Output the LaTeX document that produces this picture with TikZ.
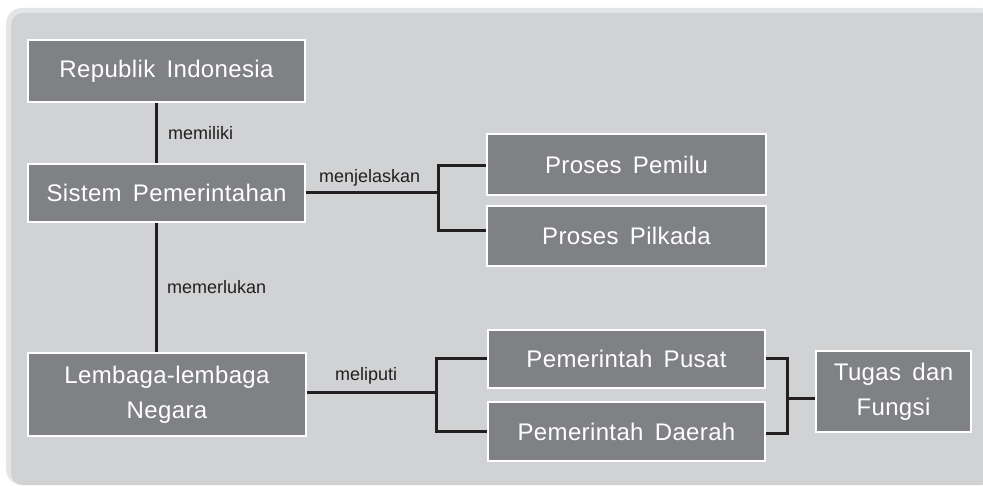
\documentclass[tikz,border=0pt]{standalone}
\usepackage{fontspec}
\setmainfont{Liberation Sans}
\newfontfamily\boxfont[LetterSpace=1.5,WordSpace=1.6]{Liberation Sans}
\usetikzlibrary{calc}
\definecolor{bgout}{HTML}{E4E5E6}
\definecolor{bgin}{HTML}{D1D2D4}
\definecolor{boxg}{HTML}{808184}
\definecolor{ink}{HTML}{231F20}
\tikzset{
 cbox/.style={draw=white, line width=2.2pt, fill=boxg, text=white, inner sep=0pt, align=center,
   font=\boxfont\fontsize{24}{35}\selectfont},
 conn/.style={draw=ink, line width=3pt},
 lbl/.style={text=ink, font=\fontsize{18}{20}\selectfont, inner sep=0pt}
}
\begin{document}
\begin{tikzpicture}[x=1pt,y=-1pt]
\useasboundingbox (0,0) rectangle (983,486);
\fill[white] (0,0) rectangle (983,486);
\fill[bgout, rounded corners=16pt] (6,8) rectangle (995,485);
\fill[bgin, rounded corners=12pt] (11,13) rectangle (995,485);
\fill[bgin] (500,470) rectangle (995,485);

\node[cbox, minimum width=277pt, minimum height=62pt] (ri) at (166.5,71) {Republik Indonesia};
\node[cbox, minimum width=277pt, minimum height=58pt] (sp) at (166.5,193) {Sistem Pemerintahan};
\node[cbox, minimum width=278pt, minimum height=83pt] (ln) at (167,394.5) {Lembaga-lembaga\\Negara};
\node[cbox, minimum width=279pt, minimum height=61pt] (pp) at (626.5,164.5) {Proses Pemilu};
\node[cbox, minimum width=279pt, minimum height=60pt] (pk) at (626.5,236) {Proses Pilkada};
\node[cbox, minimum width=277pt, minimum height=58pt] (pu) at (626.5,359) {Pemerintah Pusat};
\node[cbox, minimum width=277pt, minimum height=59pt] (pd) at (626.5,431.5) {Pemerintah Daerah};
\node[cbox, minimum width=155pt, minimum height=81pt] (tf) at (893.5,391.5) {Tugas dan\\Fungsi};

\draw[conn] ([xshift=-10.5pt]ri.south) -- ([xshift=-10.5pt]sp.north);
\draw[conn] ([xshift=-10.5pt]sp.south) -- ([xshift=-11pt]ln.north);
\node[lbl, anchor=west] (l1) at (168,133) {memiliki};
\node[lbl, anchor=west] (l2) at (167,287) {memerlukan};

\coordinate (j1) at (438,193);
\draw[conn] (sp.east) -- (j1);
\draw[conn] ([yshift=-1.5pt]pp.west) -| (j1) |- ([yshift=5pt]pk.west);
\node[lbl, anchor=west] (l3) at (319,178) {menjelaskan};

\coordinate (j2) at (436,392);
\draw[conn] ([yshift=2.5pt]ln.east) -- (j2);
\draw[conn] (pu.west) -| (j2) |- (pd.west);
\node[lbl, anchor=west] (l4) at (335,376) {meliputi};

\coordinate (j3) at (787,398);
\draw[conn] (pu.east) -| (j3) |- ([yshift=-1.5pt]pd.east);
\draw[conn] (j3) -- ([yshift=-6.5pt]tf.west);
\end{tikzpicture}
\end{document}
